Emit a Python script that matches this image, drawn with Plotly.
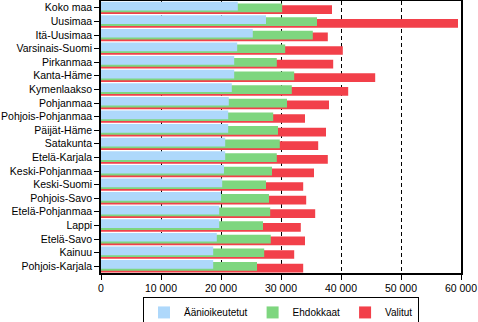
import plotly.graph_objects as go

regions = ["Koko maa", "Uusimaa", "Itä-Uusimaa", "Varsinais-Suomi", "Pirkanmaa",
           "Kanta-Häme", "Kymenlaakso", "Pohjanmaa", "Pohjois-Pohjanmaa", "Päijät-Häme",
           "Satakunta", "Etelä-Karjala", "Keski-Pohjanmaa", "Keski-Suomi", "Pohjois-Savo",
           "Etelä-Pohjanmaa", "Lappi", "Etelä-Savo", "Kainuu", "Pohjois-Karjala"]
aanioikeutetut = [22800, 27500, 25300, 22700, 22200, 22200, 21800, 21300, 21200, 21200,
                  20700, 20700, 20500, 20200, 20000, 19700, 19700, 19300, 18700, 18700]
ehdokkaat = [30200, 36000, 35300, 30700, 29300, 32200, 31800, 31000, 28700, 29500,
             29800, 29300, 28500, 27500, 28000, 28200, 27000, 28300, 27200, 26000]
valitut = [38500, 59500, 37800, 40300, 38700, 45700, 41200, 38000, 34000, 37500,
           36200, 37800, 35500, 33700, 34200, 35700, 33300, 34000, 32200, 33700]
tick_vals = [0, 10000, 20000, 30000, 40000, 50000, 60000]
tick_text = ["0", "10 000", "20 000", "30 000", "40 000", "50 000", "60 000"]

W = 0.64
fig = go.Figure()
fig.add_trace(go.Bar(y=regions, x=valitut, orientation="h", name="Valitut",
                     marker=dict(color="#F2404A", line=dict(width=0)),
                     width=W, offset=-0.18, legendrank=3))
fig.add_trace(go.Bar(y=regions, x=ehdokkaat, orientation="h", name="Ehdokkaat",
                     marker=dict(color="#7ED67F", line=dict(width=0)),
                     width=W, offset=-0.31, legendrank=2))
fig.add_trace(go.Bar(y=regions, x=aanioikeutetut, orientation="h", name="Äänioikeutetut",
                     marker=dict(color="#AED8FB", line=dict(width=0)),
                     width=W, offset=-0.45, legendrank=1))

fig.update_layout(
    width=478, height=322,
    margin=dict(l=101, r=17, t=1, b=49, autoexpand=False),
    barmode="overlay",
    plot_bgcolor="white", paper_bgcolor="white",
    font=dict(family="Arial, Liberation Sans, sans-serif", size=10.5, color="black"),
    legend=dict(orientation="h", x=0.5, xanchor="center", y=-0.088, yanchor="top",
                bordercolor="black", borderwidth=1, font=dict(size=10),
                itemwidth=30, tracegroupgap=0),
    xaxis=dict(range=[0, 60000], tickvals=tick_vals, ticktext=tick_text,
               showgrid=True, gridcolor="black", gridwidth=1, griddash="4px,3px",
               zeroline=False, showline=True, linecolor="black", linewidth=1.5,
               mirror=True, ticks="outside", ticklen=5, tickcolor="black",
               ticklabelstandoff=0, automargin=False),
    yaxis=dict(autorange="reversed", showline=True, linecolor="black", linewidth=1.5,
               mirror=True, ticks="outside", ticklen=5, tickcolor="black",
               showgrid=False, dtick=1, automargin=False),
)
fig.write_html("out.html")
